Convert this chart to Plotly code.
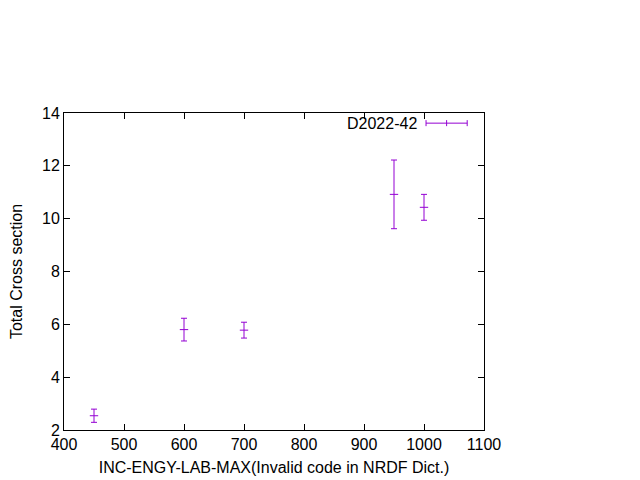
import plotly.graph_objects as go

energy = [450, 600, 700, 950, 1000]
cross_section = [2.54, 5.80, 5.78, 10.92, 10.43]
error = [0.25, 0.43, 0.30, 1.30, 0.49]
series_name = "D2022-42"
x_ticks = [400, 500, 600, 700, 800, 900, 1000, 1100]
y_ticks = [2, 4, 6, 8, 10, 12, 14]

color = "#9400D3"
font = dict(family="Liberation Sans, Arial, sans-serif", size=16, color="black")

fig = go.Figure()
fig.add_trace(go.Scatter(
    x=energy, y=cross_section, mode="markers", name=series_name,
    marker=dict(symbol="line-ew", size=6, color=color, line=dict(color=color, width=1)),
    error_y=dict(type="data", array=error, visible=True, color=color, thickness=1, width=3),
    showlegend=False,
))

axis_common = dict(showline=True, linecolor="black", linewidth=1, mirror="ticks",
                   ticks="inside", ticklen=6, tickcolor="black", showgrid=False,
                   zeroline=False, tickfont=font, automargin=False)

# page body has an 8px margin, so the figure is drawn slightly smaller
fig.update_layout(
    width=632, height=472,
    margin=dict(l=56, r=156, t=105, b=50),
    paper_bgcolor="white", plot_bgcolor="white",
    font=font,
    xaxis=dict(range=[400, 1100], tickvals=x_ticks,
               title=dict(text="INC-ENGY-LAB-MAX(Invalid code in NRDF Dict.)", font=font, standoff=9),
               **axis_common),
    yaxis=dict(range=[2, 14], tickvals=y_ticks,
               title=dict(text="Total Cross section", font=font, standoff=19),
               **axis_common),
)

# legend drawn gnuplot-style
ly = 0.968
fig.add_annotation(xref="paper", yref="paper", x=0.845, y=ly, text=series_name,
                   showarrow=False, xanchor="right", yanchor="middle", font=font)
lc = dict(color=color, width=1)
fig.add_shape(type="line", xref="paper", yref="paper", x0=0.862, x1=0.960, y0=ly, y1=ly, line=lc)
for xx in (0.862, 0.960):
    fig.add_shape(type="line", xref="paper", yref="paper", x0=xx, x1=xx, y0=ly - 0.0095, y1=ly + 0.0095, line=lc)
fig.add_shape(type="line", xref="paper", yref="paper", x0=0.911, x1=0.911, y0=ly - 0.0095, y1=ly + 0.0095, line=lc)

fig.write_html("out.html")
